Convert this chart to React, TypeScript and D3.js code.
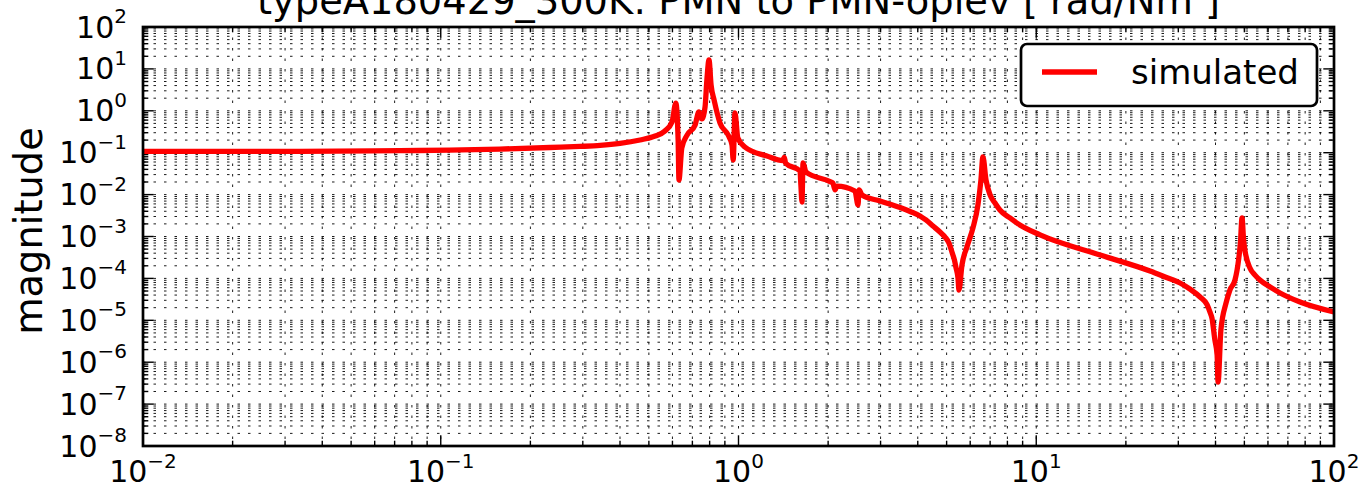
import React from "react";
import * as d3 from "d3";

// frequency [Hz] and magnitude
const freq = [
  0.01, 0.0336, 0.0729, 0.107, 0.158, 0.233, 0.294, 0.343, 0.4, 0.467, 0.525,
  0.566, 0.598, 0.616, 0.627, 0.631, 0.645, 0.671, 0.715, 0.736, 0.753, 0.772,
  0.783, 0.796, 0.809, 0.828, 0.867, 0.923, 0.951, 0.96, 0.973, 0.995, 1.05,
  1.246, 1.41, 1.425, 1.44, 1.609, 1.62, 1.634, 1.647, 1.686, 2.03, 2.075, 2.11,
  2.14, 2.46, 2.52, 2.54, 2.6, 2.99, 3.49, 3.77, 4.07, 4.26, 4.5, 4.75, 4.94,
  5.09, 5.21, 5.31, 5.38, 5.46, 5.5, 5.63, 5.85, 6.13, 6.37, 6.52, 6.62, 6.78,
  7.0, 7.27, 7.55, 8.16, 8.81, 10.3, 16.4, 24.1, 27.1, 30.4, 32.8, 35.5, 37.5,
  38.3, 38.9, 39.8, 40.5, 40.8, 41.7, 43.4, 44.7, 46.5, 47.9, 48.5, 49.1, 49.7,
  50.2, 52.2, 54.3, 56.4, 61.0, 65.9, 76.9, 100,
];
const magnitude = [
  0.107, 0.108, 0.112, 0.115, 0.122, 0.133, 0.141, 0.149, 0.166, 0.201, 0.25,
  0.33, 0.54, 1.53, 0.2, 0.0223, 0.13, 0.26, 0.46, 0.94, 0.64, 1.23,
  5.4, 16.3, 4.1, 1.81, 0.51, 0.264, 0.153, 0.067, 0.886, 0.224, 0.137,
  0.0834, 0.065, 0.077, 0.056, 0.0366, 0.0169, 0.00666, 0.0568, 0.0346, 0.0205, 0.0189, 0.0129,
  0.016, 0.0122, 0.00565, 0.0129, 0.00977, 0.00703, 0.0049, 0.00395, 0.0031, 0.00248, 0.00178, 0.00128, 0.00097,
  0.0007, 0.000427, 0.000275, 0.000177, 0.000102, 5.28e-5, 0.000209, 0.000561, 0.0016, 0.00565, 0.0223, 0.0789, 0.0223,
  0.00977, 0.0063, 0.00429, 0.00277, 0.00188, 0.00109, 0.000362, 0.00015, 0.000108, 7.77e-5, 5.58e-5, 3.6e-5, 2.32e-5,
  1.58e-5, 1.14e-5, 3.39e-6, 1.49e-6, 3.37e-7, 5.86e-6, 2.59e-5, 5.28e-5, 9.16e-5, 3.07e-4, 7.0e-4, 2.77e-3, 8.25e-4,
  4.77e-4, 1.77e-4, 1.2e-4, 9.16e-5, 6.23e-5, 4.49e-5, 2.73e-5, 1.58e-5,
];

const xDecades = [-2, -1, 0, 1, 2];
const yDecades = [2, 1, 0, -1, -2, -3, -4, -5, -6, -7, -8];
const title = "typeA180429_300K: PMN to PMN-oplev [ rad/Nm ]";
const yTitle = "magnitude";
const seriesName = "simulated";

const W = 1368, H = 488;
const left = 143, right = 1334, top = 27, bottom = 446;
const font = "'DejaVu Sans', sans-serif";

function minors(decades: number[]) {
  const out: number[] = [];
  const lo = d3.min(decades)!, hi = d3.max(decades)!;
  for (let e = lo; e < hi; e++) for (let k = 2; k <= 9; k++) out.push(k * Math.pow(10, e));
  return out;
}

export default function App() {
  const x = d3.scaleLog().domain([1e-2, 1e2]).range([left, right]);
  const y = d3.scaleLog().domain([1e-8, 1e2]).range([bottom, top]);

  const pts = freq.map((f, i) => [f, magnitude[i]] as [number, number]);
  const line = d3.line<[number, number]>()
    .x(d => x(d[0]))
    .y(d => y(d[1]))
    .curve(d3.curveMonotoneX);

  const xMaj = xDecades.map(e => Math.pow(10, e));
  const yMaj = yDecades.map(e => Math.pow(10, e));
  const xMin = minors(xDecades);
  const yMin = minors(yDecades);

  const grid = { stroke: "#000", strokeWidth: 0.9, strokeDasharray: "2.5 8", fill: "none" };
  const tick = { stroke: "#000", strokeWidth: 1.4 };

  return (
    <svg width={W} height={H} style={{ position: "absolute", left: 0, top: 0, background: "#fff" }} fontFamily={font}>
      {/* grid */}
      {[...xMaj, ...xMin].map((v, i) => (
        <line key={"gx" + i} x1={x(v)} x2={x(v)} y1={top} y2={bottom} {...grid} />
      ))}
      {[...yMaj, ...yMin].map((v, i) => (
        <line key={"gy" + i} x1={left} x2={right} y1={y(v)} y2={y(v)} {...grid} />
      ))}

      {/* ticks, inward on all sides */}
      {xMaj.map((v, i) => (
        <g key={"tx" + i}>
          <line x1={x(v)} x2={x(v)} y1={bottom} y2={bottom - 10.7} {...tick} />
          <line x1={x(v)} x2={x(v)} y1={top} y2={top + 10.7} {...tick} />
        </g>
      ))}
      {xMin.map((v, i) => (
        <g key={"tmx" + i}>
          <line x1={x(v)} x2={x(v)} y1={bottom} y2={bottom - 5.3} {...tick} />
          <line x1={x(v)} x2={x(v)} y1={top} y2={top + 5.3} {...tick} />
        </g>
      ))}
      {yMaj.map((v, i) => (
        <g key={"ty" + i}>
          <line x1={left} x2={left + 10.7} y1={y(v)} y2={y(v)} {...tick} />
          <line x1={right} x2={right - 10.7} y1={y(v)} y2={y(v)} {...tick} />
        </g>
      ))}
      {yMin.map((v, i) => (
        <g key={"tmy" + i}>
          <line x1={left} x2={left + 5.3} y1={y(v)} y2={y(v)} {...tick} />
          <line x1={right} x2={right - 5.3} y1={y(v)} y2={y(v)} {...tick} />
        </g>
      ))}

      {/* curve */}
      <path d={line(pts) ?? ""} fill="none" stroke="#ff0000" strokeWidth={5.3} strokeLinejoin="round" />

      {/* frame */}
      <rect x={left} y={top} width={right - left} height={bottom - top} fill="none" stroke="#000" strokeWidth={2.7} />

      {/* tick labels */}
      {xDecades.map(e => (
        <text key={"lx" + e} x={x(Math.pow(10, e))} y={482} textAnchor="middle" fontSize={30}>
          10<tspan fontSize={20} dy={-14.5}>{String(e).replace("-", "\u2212")}</tspan>
        </text>
      ))}
      {yDecades.map(e => (
        <text key={"ly" + e} x={127} y={y(Math.pow(10, e)) + 10.5} textAnchor="end" fontSize={30}>
          10<tspan fontSize={20} dy={-14.5}>{String(e).replace("-", "\u2212")}</tspan>
        </text>
      ))}

      {/* titles */}
      <text x={(left + right) / 2} y={13.5} textAnchor="middle" fontSize={38.4}>{title}</text>
      <text transform={`translate(42,231) rotate(-90)`} textAnchor="middle" fontSize={38.4}>{yTitle}</text>

      {/* legend */}
      <rect x={1021} y={44} width={296} height={62} rx={6} fill="#fff" stroke="#000" strokeWidth={2.7} />
      <line x1={1042} x2={1097} y1={72} y2={72} stroke="#ff0000" strokeWidth={5.3} />
      <text x={1131} y={84} fontSize={34}>{seriesName}</text>
    </svg>
  );
}
